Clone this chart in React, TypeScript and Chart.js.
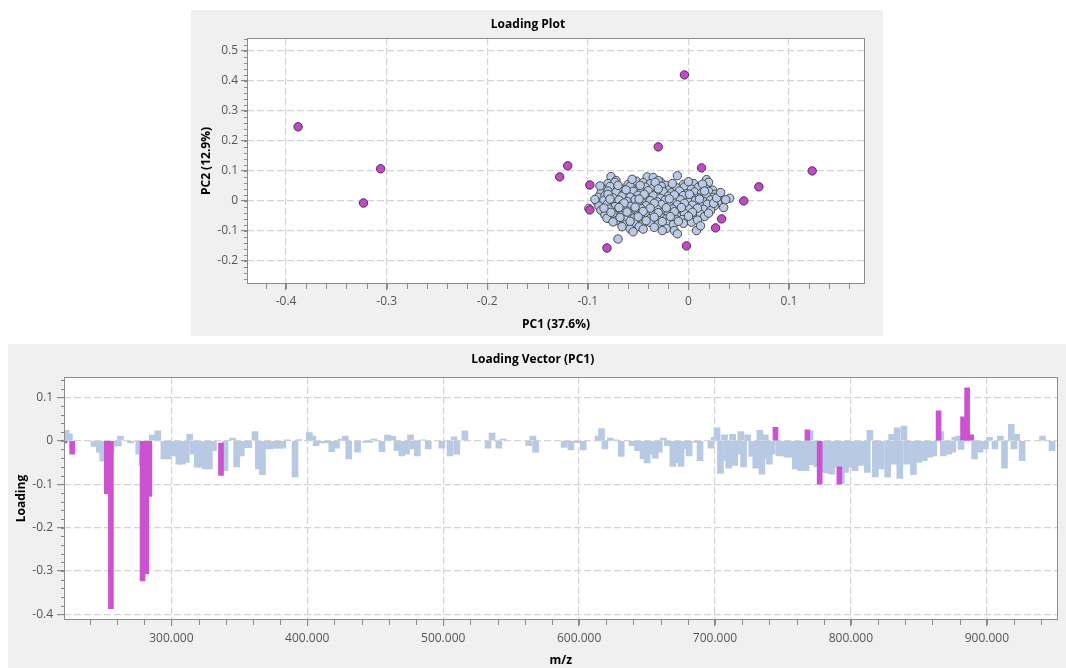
import React, { useEffect, useRef } from "react";
import { Chart, registerables } from "chart.js";

Chart.register(...registerables);

const FONT = "'Open Sans', 'Noto Sans', sans-serif";

// ---------- Loading Plot (PC1 vs PC2) ----------
const clusterLoadings: [number, number][] = [
  [-0.077, 0.081], [-0.072, 0.068], [-0.041, 0.08], [-0.035, 0.078], [-0.028, 0.064], [-0.011, 0.084], [0.018, 0.071],
  [-0.08, 0.058], [-0.073, 0.062], [-0.06, 0.055], [-0.052, 0.066], [-0.045, 0.061], [-0.038, 0.057], [-0.03, 0.068], [-0.022, 0.052], [-0.005, 0.055], [0.005, 0.058], [0.012, 0.05], [0.02, 0.062],
  [-0.085, 0.04], [-0.078, 0.048], [-0.068, 0.043], [-0.058, 0.049], [-0.05, 0.038], [-0.043, 0.046], [-0.036, 0.041], [-0.027, 0.049], [-0.019, 0.037], [-0.012, 0.044], [-0.004, 0.047], [0.003, 0.039], [0.01, 0.046], [0.017, 0.041], [0.024, 0.036],
  [-0.087, 0.027], [-0.08, 0.033], [-0.072, 0.029], [-0.064, 0.024], [-0.055, 0.032], [-0.047, 0.028], [-0.04, 0.034], [-0.032, 0.025], [-0.025, 0.031], [-0.017, 0.027], [-0.009, 0.033], [-0.002, 0.024], [0.006, 0.03], [0.013, 0.026], [0.02, 0.032], [0.027, 0.022],
  [-0.09, 0.012], [-0.083, 0.018], [-0.075, 0.01], [-0.066, 0.016], [-0.058, 0.013], [-0.05, 0.019], [-0.043, 0.011], [-0.035, 0.017], [-0.028, 0.009], [-0.02, 0.016], [-0.012, 0.012], [-0.005, 0.018], [0.003, 0.014], [0.01, 0.01], [0.018, 0.017], [0.025, 0.012], [0.031, 0.016],
  [-0.091, -0.003], [-0.084, 0.002], [-0.076, -0.004], [-0.069, 0.003], [-0.061, -0.002], [-0.053, 0.004], [-0.046, -0.005], [-0.038, 0.001], [-0.031, -0.003], [-0.023, 0.003], [-0.015, -0.001], [-0.008, 0.004], [0.0, -0.004], [0.007, 0.001], [0.015, -0.002], [0.022, 0.003], [0.029, -0.006],
  [-0.089, -0.017], [-0.081, -0.012], [-0.073, -0.019], [-0.066, -0.013], [-0.058, -0.018], [-0.05, -0.011], [-0.042, -0.016], [-0.035, -0.02], [-0.027, -0.012], [-0.019, -0.017], [-0.011, -0.013], [-0.004, -0.019], [0.004, -0.014], [0.012, -0.018], [0.019, -0.011], [0.026, -0.016],
  [-0.087, -0.031], [-0.079, -0.027], [-0.071, -0.034], [-0.063, -0.028], [-0.055, -0.033], [-0.047, -0.026], [-0.039, -0.032], [-0.031, -0.029], [-0.024, -0.035], [-0.016, -0.027], [-0.008, -0.031], [0.0, -0.026], [0.008, -0.033], [0.015, -0.028], [0.022, -0.032],
  [-0.083, -0.047], [-0.075, -0.042], [-0.067, -0.049], [-0.059, -0.044], [-0.051, -0.048], [-0.043, -0.041], [-0.035, -0.046], [-0.028, -0.05], [-0.02, -0.043], [-0.012, -0.047], [-0.004, -0.042], [0.004, -0.049], [0.012, -0.044],
  [-0.081, -0.058], [-0.072, -0.066], [-0.063, -0.061], [-0.054, -0.057], [-0.046, -0.063], [-0.038, -0.059], [-0.03, -0.065], [-0.022, -0.06], [-0.014, -0.056], [-0.006, -0.062], [0.002, -0.058], [0.016, -0.052],
  [-0.062, -0.078], [-0.054, -0.073], [-0.046, -0.079], [-0.038, -0.072], [-0.03, -0.077], [-0.022, -0.074], [-0.015, -0.079], [-0.005, -0.075], [0.003, -0.071],
  [-0.066, -0.086], [-0.058, -0.093], [-0.049, -0.086], [-0.034, -0.088], [-0.022, -0.092], [-0.014, -0.099], [0.008, -0.099],
  [-0.07, -0.127], [-0.055, -0.103], [-0.026, -0.099], [-0.011, -0.11], [0.041, 0.009], [0.035, -0.022], [-0.099, -0.025], [-0.08, 0.022], [0.037, 0.004],
  [-0.07, 0.052], [-0.056, 0.072], [-0.048, 0.052], [-0.033, 0.062], [-0.016, 0.058], [0.0, 0.064], [0.014, 0.056], [-0.062, 0.037],
  [-0.044, 0.022], [-0.03, 0.04], [-0.014, 0.02], [0.001, 0.022], [0.016, 0.033], [-0.078, 0.006], [-0.064, -0.007], [-0.049, 0.006],
  [-0.034, -0.008], [-0.019, 0.007], [-0.004, -0.008], [0.011, 0.006], [0.025, -0.008], [-0.084, -0.024], [-0.069, -0.022], [-0.053, -0.021],
  [-0.038, -0.024], [-0.022, -0.023], [-0.007, -0.022], [0.009, -0.024], [-0.077, -0.038], [-0.061, -0.037], [-0.045, -0.035], [-0.03, -0.039],
  [-0.014, -0.036], [0.004, -0.038], [0.02, -0.041], [-0.068, -0.055], [-0.05, -0.053], [-0.034, -0.054], [-0.018, -0.052], [0.0, -0.051],
  [-0.058, -0.068], [-0.042, -0.066], [-0.026, -0.069], [-0.01, -0.068], [0.009, -0.064], [-0.075, -0.07], [-0.045, -0.094], [0.012, -0.083],
  [0.028, 0.01], [0.032, 0.028], [-0.088, 0.05], [-0.093, 0.005],
];

const markedLoadings: [number, number][] = [
  [-0.388, 0.247], [-0.306, 0.107], [-0.323, -0.007], [-0.128, 0.08], [-0.12, 0.117],
  [-0.098, 0.053], [-0.098, -0.03], [-0.081, -0.157], [-0.03, 0.18], [-0.004, 0.42],
  [0.013, 0.11], [-0.002, -0.15], [0.027, -0.09], [0.033, -0.06], [0.055, 0.0],
  [0.07, 0.047], [0.123, 0.1],
];

const scatterXTicks = [-0.4, -0.3, -0.2, -0.1, 0, 0.1];
const scatterXTickLabels = ["-0.4", "-0.3", "-0.2", "-0.1", "0", "0.1"];
const scatterYTicks = [-0.2, -0.1, 0, 0.1, 0.2, 0.3, 0.4, 0.5];
const scatterYTickLabels = ["-0.2", "-0.1", "0", "0.1", "0.2", "0.3", "0.4", "0.5"];

// ---------- Loading Vector (PC1) ----------
const vectorMz = [
  222.5, 225, 243, 247, 249.5, 255.5, 258, 261, 262.5, 270, 276, 278.5, 286, 290, 294.5, 297.5,
  300, 303, 305.5, 308, 311, 313.5, 316, 319, 322, 325, 328, 331, 339.5, 345, 348, 351.5, 354.5,
  357, 361.5, 364, 367, 370, 373, 376, 379, 382, 385, 391, 394, 401.5, 404, 406.5, 411, 414, 418,
  421.5, 425, 428, 430.5, 437, 443, 446, 449, 455, 459, 463, 466, 469.5, 473, 476, 478, 481, 485,
  489, 499, 505, 508, 510, 516, 533, 536, 541, 544, 563, 566, 568, 589, 592, 594, 597, 600, 603,
  614, 616.5, 619, 623, 627, 631, 639, 643, 647, 650, 653, 656, 659, 662, 665, 669, 672, 675, 678,
  681, 686, 689, 697, 699.5, 701.5, 704, 707, 708.5, 710, 713, 714.5, 716.5, 719, 721, 724, 727,
  730, 733, 734.5, 737, 738.5, 740, 742, 747, 750, 753, 756, 759, 763, 767, 770, 771.5, 775, 779,
  783, 786, 790, 793, 796, 800, 803, 807, 810, 812, 814, 818, 822, 827, 830, 831.5, 834, 836, 839,
  841, 846, 850, 854, 858, 861, 866, 868, 872, 875, 876.5, 879, 881, 891, 895, 899, 902, 906, 910,
  913, 918, 920, 922, 926, 941, 948,
];
const vectorLoading = [
  0.024, 0.016, -0.013, -0.027, -0.047, -0.025, -0.012, -0.012, 0.011, -0.005, -0.031, -0.057, 0.014, 0.023, -0.042, -0.042,
  -0.035, -0.035, -0.054, -0.054, -0.05, 0.015, -0.031, -0.061, -0.061, -0.065, -0.065, -0.023, -0.069, 0.006, -0.06, -0.035, -0.016,
  -0.016, 0.021, -0.065, -0.078, -0.019, -0.019, -0.017, -0.017, -0.017, 0.002, -0.083, 0.003, 0.019, 0.011, -0.011, -0.005, -0.005, -0.025,
  -0.017, 0.004, 0.011, -0.042, -0.026, -0.004, -0.004, 0.004, -0.025, 0.013, 0.01, -0.023, -0.035, -0.031, 0.014, -0.019, -0.035, 0.002,
  -0.019, -0.017, -0.035, 0.009, -0.031, 0.023, -0.017, 0.018, -0.017, 0.004, -0.011, 0.011, -0.026, -0.015, -0.004, -0.021, -0.004, -0.004, -0.021,
  0.011, 0.028, -0.019, 0.006, 0.002, -0.036, -0.011, -0.023, -0.042, -0.051, -0.031, -0.04, -0.026, 0.006, -0.011, -0.059, -0.051, -0.059, -0.019,
  -0.035, -0.004, -0.046, -0.017, 0.008, 0.03, -0.075, 0.014, -0.046, -0.063, 0.015, -0.057, -0.031, 0.021, -0.06, 0.014, -0.036,
  -0.063, 0.024, -0.077, 0.014, -0.04, -0.054, -0.031, -0.035, -0.035, -0.038, -0.038, -0.065, -0.069, -0.069, 0.023, -0.055, -0.06, -0.073,
  -0.074, -0.077, -0.06, -0.098, -0.073, -0.061, -0.069, -0.057, -0.05, -0.073, 0.024, -0.083, -0.065, -0.084, 0.015, -0.054, 0.03, -0.087, 0.034,
  -0.054, -0.078, -0.05, -0.046, -0.038, -0.035, 0.021, -0.035, -0.031, -0.026, 0.008, 0.011, -0.02, -0.042, -0.026, -0.019, 0.008, -0.019, 0.011,
  -0.063, 0.038, -0.019, 0.015, -0.046, 0.011, -0.023,
];

const markedMz = [221.5, 227, 252.5, 255.5, 278.8, 281.5, 283.8, 336.5, 744.5, 768, 777, 791.5, 864.5, 882.5, 885.5, 888.5];
const markedStart = [0, 0, 0, 0, 0, 0, 0, -0.005, 0, 0, 0, -0.06, 0, 0, 0, 0];
const markedLoading = [-0.005, -0.031, -0.122, -0.387, -0.323, -0.306, -0.128, -0.08, 0.031, 0.025, -0.1, -0.1, 0.069, 0.055, 0.122, 0.014];

const vectorXTicks = [300, 400, 500, 600, 700, 800, 900];
const vectorXTickLabels = ["300.000", "400.000", "500.000", "600.000", "700.000", "800.000", "900.000"];
const vectorYTicks = [-0.4, -0.3, -0.2, -0.1, 0, 0.1];
const vectorYTickLabels = ["-0.4", "-0.3", "-0.2", "-0.1", "0", "0.1"];

// ---------- helpers ----------
const framePlugin = {
  id: "frame",
  beforeDraw(chart: any) {
    const { ctx, chartArea: a } = chart;
    ctx.save();
    ctx.fillStyle = "#ffffff";
    ctx.fillRect(a.left, a.top, a.right - a.left, a.bottom - a.top);
    ctx.restore();
  },
  afterDraw(chart: any, _args: any, opts: any) {
    const { ctx, chartArea: a, scales } = chart;
    const x = scales.x;
    const y = scales.y;
    ctx.save();
    ctx.strokeStyle = "#8a8a8a";
    ctx.lineWidth = 1;
    ctx.beginPath();
    for (let i = 0; ; i++) {
      const v = opts.xMinorStart + i * opts.xMinorStep;
      if (v > x.max + 1e-9) break;
      const px = Math.round(x.getPixelForValue(v)) + 0.5;
      if (px < a.left || px > a.right) continue;
      ctx.moveTo(px, a.bottom);
      ctx.lineTo(px, a.bottom + opts.xMinorLen);
    }
    for (let i = 0; ; i++) {
      const v = opts.yMinorStart + i * opts.yMinorStep;
      if (v > y.max + 1e-9) break;
      const py = Math.round(y.getPixelForValue(v)) + 0.5;
      if (py < a.top || py > a.bottom) continue;
      ctx.moveTo(a.left, py);
      ctx.lineTo(a.left - opts.yMinorLen, py);
    }
    ctx.stroke();
    ctx.strokeStyle = "#8c8c8c";
    ctx.strokeRect(Math.round(a.left) + 0.5, Math.round(a.top) + 0.5, Math.round(a.right - a.left) - 1, Math.round(a.bottom - a.top) - 1);
    ctx.restore();
  },
};

const gridOpts = { color: "#d4d4d4", lineWidth: 1.2, tickColor: "#8a8a8a", tickLength: 6 };
const borderOpts = { display: false, dash: [7, 3] };
const tickFont = { family: FONT, size: 12 };
const titleFont = { family: FONT, size: 12, weight: "bold" as const };

function LoadingPlot() {
  const ref = useRef<HTMLCanvasElement>(null);
  useEffect(() => {
    if (!ref.current) return;
    const chart = new Chart(ref.current, {
      type: "scatter",
      data: {
        datasets: [
          {
            data: markedLoadings.map(([x, y]) => ({ x, y })),
            pointRadius: 4.2,
            pointBackgroundColor: "#c24ac6",
            pointBorderColor: "#4f2a52",
            pointBorderWidth: 1,
          },
          {
            data: clusterLoadings.map(([x, y]) => ({ x, y })),
            pointRadius: 4.2,
            pointBackgroundColor: "#b8cae6",
            pointBorderColor: "#4a4a4a",
            pointBorderWidth: 1,
          },
        ],
      },
      options: {
        animation: false,
        responsive: false,
        layout: { padding: { left: 0, right: 18, top: 0, bottom: 0 } },
        plugins: {
          legend: { display: false },
          tooltip: { enabled: false },
          title: {
            display: true,
            text: "Loading Plot",
            color: "#000",
            font: titleFont,
            padding: { top: 7.8, bottom: 5.8 },
          },
          frame: { xMinorStart: -0.44, xMinorStep: 0.02, xMinorLen: 5, yMinorStart: -0.26, yMinorStep: 0.02, yMinorLen: 3 },
        } as any,
        scales: {
          x: {
            type: "linear",
            min: -0.4388,
            max: 0.1755,
            afterBuildTicks: (s: any) => { s.ticks = scatterXTicks.map((v) => ({ value: v })); },
            afterFit: (s: any) => { s.height = 52; },
            grid: gridOpts,
            border: borderOpts,
            ticks: { color: "#555", font: tickFont, padding: 4, maxRotation: 0, callback: (_v: any, i: number) => scatterXTickLabels[i] },
            title: { display: true, text: "PC1 (37.6%)", color: "#000", font: titleFont, padding: { top: 0, bottom: 3.8 } },
          },
          y: {
            type: "linear",
            min: -0.277,
            max: 0.543,
            afterBuildTicks: (s: any) => { s.ticks = scatterYTicks.map((v) => ({ value: v })); },
            afterFit: (s: any) => { s.width = 56; },
            grid: gridOpts,
            border: borderOpts,
            ticks: { color: "#555", font: tickFont, padding: 3, callback: (_v: any, i: number) => scatterYTickLabels[i] },
            title: { display: true, text: "PC2 (12.9%)", color: "#000", font: titleFont, padding: { top: 8.8, bottom: 0 } },
          },
        },
      },
      plugins: [framePlugin],
    });
    return () => chart.destroy();
  }, []);
  return <canvas ref={ref} width={692} height={326} style={{ width: 692, height: 326, display: "block" }} />;
}

function LoadingVector() {
  const ref = useRef<HTMLCanvasElement>(null);
  useEffect(() => {
    if (!ref.current) return;
    const chart = new Chart(ref.current, {
      type: "bar",
      data: {
        datasets: [
          {
            data: markedMz.map((x, i) => ({ x, y: [markedStart[i], markedLoading[i]] })) as any,
            backgroundColor: "#cc52d2",
            barThickness: 5,
            grouped: false,
            borderWidth: 0,
          },
          {
            data: vectorMz.map((x, i) => ({ x, y: vectorLoading[i] })),
            backgroundColor: "#b8c9e4",
            barThickness: 6,
            grouped: false,
            borderWidth: 0,
          },
        ],
      },
      options: {
        animation: false,
        responsive: false,
        layout: { padding: { left: 0, right: 8.5, top: 0, bottom: 0 } },
        plugins: {
          legend: { display: false },
          tooltip: { enabled: false },
          title: {
            display: true,
            text: "Loading Vector (PC1)",
            color: "#000",
            font: titleFont,
            padding: { top: 8.8, bottom: 9.8 },
          },
          frame: { xMinorStart: 240, xMinorStep: 20, xMinorLen: 5, yMinorStart: -0.4, yMinorStep: 0.02, yMinorLen: 3 },
        } as any,
        scales: {
          x: {
            type: "linear",
            offset: false,
            min: 221,
            max: 952,
            afterBuildTicks: (s: any) => { s.ticks = vectorXTicks.map((v) => ({ value: v })); },
            afterFit: (s: any) => { s.height = 48; },
            grid: { ...gridOpts, offset: false },
            border: borderOpts,
            ticks: { color: "#555", font: tickFont, padding: 5, maxRotation: 0, callback: (_v: any, i: number) => vectorXTickLabels[i] },
            title: { display: true, text: "m/z", color: "#000", font: titleFont, padding: { top: 0, bottom: 0 } },
          },
          y: {
            type: "linear",
            min: -0.413,
            max: 0.147,
            afterBuildTicks: (s: any) => { s.ticks = vectorYTicks.map((v) => ({ value: v })); },
            afterFit: (s: any) => { s.width = 56; },
            grid: { ...gridOpts, tickLength: 7 },
            border: borderOpts,
            ticks: { color: "#555", font: tickFont, padding: 4, callback: (_v: any, i: number) => vectorYTickLabels[i] },
            title: { display: true, text: "Loading", color: "#000", font: titleFont, padding: { top: 6.5, bottom: 0 } },
          },
        },
      },
      plugins: [framePlugin],
    });
    return () => chart.destroy();
  }, []);
  return <canvas ref={ref} width={1058} height={324} style={{ width: 1058, height: 324, display: "block" }} />;
}

export default function App() {
  return (
    <div>
      <div style={{ position: "absolute", left: 191, top: 10, width: 692, height: 326, background: "#f0f0f0" }}>
        <LoadingPlot />
      </div>
      <div style={{ position: "absolute", left: 8, top: 344, width: 1058, height: 324, background: "#f0f0f0" }}>
        <LoadingVector />
      </div>
    </div>
  );
}
